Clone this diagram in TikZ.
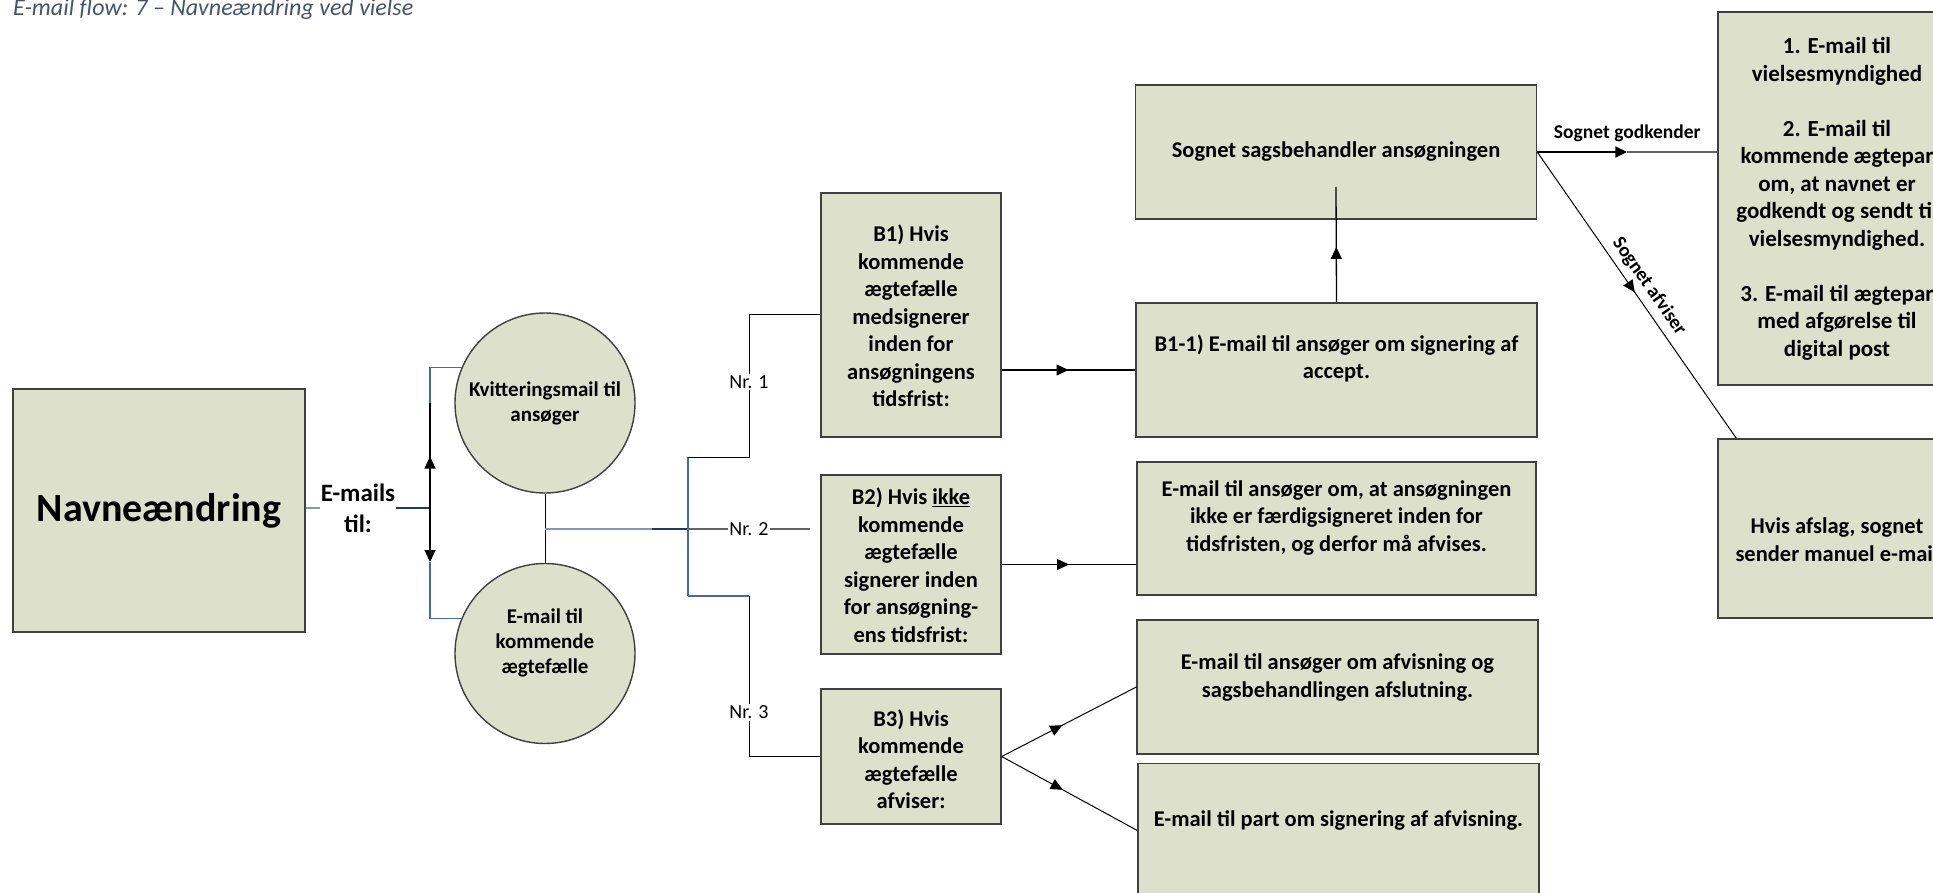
\documentclass[tikz,border=0pt]{standalone}
\usepackage{fontspec}
\setmainfont{Carlito}
\usetikzlibrary{arrows.meta,decorations.markings,calc}
\definecolor{boxfill}{RGB}{221,224,203}
\definecolor{boxline}{RGB}{64,64,64}
\definecolor{titlecol}{RGB}{68,84,106}
\definecolor{lblue}{RGB}{132,151,185}
\definecolor{mblue}{RGB}{68,105,170}
\definecolor{dblue}{RGB}{31,56,100}
\definecolor{lgray}{RGB}{100,100,100}
\tikzset{
  box/.style={draw=boxline, fill=boxfill, line width=1.4pt, inner sep=0pt},
  circ/.style={circle, draw=boxline, fill=boxfill, line width=1.4pt, inner sep=0pt, minimum size=180pt,
    align=center, font=\fontsize{21}{25}\selectfont\bfseries},
  btxt/.style={align=center, inner sep=0pt, font=\fontsize{22.5}{27.5}\selectfont\bfseries},
  nrlbl/.style={fill=white, text=black, inner sep=1.5pt, font=\fontsize{20}{24}\selectfont},
  lbl/.style={inner sep=1pt, font=\fontsize{19.5}{23}\selectfont\bfseries},
  conn/.style={black, line width=1.3pt},
  thinconn/.style={black, line width=1pt},
  bline/.style={line width=1.1pt},
  tip/.style={-{Triangle[length=12pt,width=11pt]}},
  midarrow/.style={postaction={decorate},decoration={markings,mark=at position #1 with {\arrow{Triangle[length=12pt,width=11pt]}}}},
}
\begin{document}
\begin{tikzpicture}[x=1pt,y=-1pt]
\useasboundingbox (0,0) rectangle (1933,893);

% title
\node[anchor=base west, inner sep=0pt, text=titlecol, font=\fontsize{24}{28}\selectfont\itshape] (title) at (13,16) {E-mail flow: 7 – Navneændring ved vielse};

% main box
\node[box, minimum width=292pt, minimum height=243pt, font=\fontsize{40}{48}\selectfont\bfseries] (navn) at (159,510.5) {Navneændring};
\node[align=center, inner sep=1pt, font=\fontsize{25}{31}\selectfont\bfseries] (emails) at (358,508) {E-mails\\til:};

% circles
\node[circ] (k1) at (545,403) {Kvitteringsmail til\\ansøger};
\node[circ] (k2) at (545,653.5) {};
\node[align=center, inner sep=0pt, font=\fontsize{21}{25}\selectfont\bfseries] (k2t) at (545,642.5) {E-mail til\\kommende\\ægtefælle};

% B boxes
\node[box, minimum width=180pt, minimum height=244pt] (b1) at (911,315) {};
\node[btxt] (b1t) at (911,316) {B1) Hvis\\kommende\\ægtefælle\\medsignerer\\inden for\\ansøgningens\\tidsfrist:};
\node[box, minimum width=180pt, minimum height=179pt] (b2) at (911,564.5) {};
\node[btxt] (b2t) at (911,565) {B2) Hvis \underline{ikke}\\kommende\\ægtefælle\\signerer inden\\for ansøgning-\\ens tidsfrist:};
\node[box, minimum width=180pt, minimum height=135pt] (b3) at (911,756.5) {};
\node[btxt] (b3t) at (911,759) {B3) Hvis\\kommende\\ægtefælle\\afviser:};

% result boxes
\node[box, minimum width=401pt, minimum height=134pt] (sag) at (1336,152) {};
\node[btxt] (sagt) at (1336,152) {Sognet sagsbehandler ansøgningen};
\node[box, minimum width=401pt, minimum height=134pt] (b11) at (1336.5,370) {};
\node[btxt] (b11t) at (1336.5,358.5) {B1-1) E-mail til ansøger om signering af\\accept.};
\node[box, minimum width=399pt, minimum height=133pt] (e2) at (1336.5,528.5) {};
\node[btxt] (e2t) at (1336.5,517.5) {E-mail til ansøger om, at ansøgningen\\ikke er færdigsigneret inden for\\tidsfristen, og derfor må afvises.};
\node[box, minimum width=401pt, minimum height=134pt] (e3) at (1337.5,687) {};
\node[btxt] (e3t) at (1337.5,677.5) {E-mail til ansøger om afvisning og\\sagsbehandlingen afslutning.};
\node[box, minimum width=401pt, minimum height=134pt] (e4) at (1338.5,830.5) {};
\node[btxt] (e4t) at (1338.5,820) {E-mail til part om signering af afvisning.};

% right boxes
\node[box, minimum width=238pt, minimum height=373pt] (topr) at (1837,198.5) {};
\node[btxt, font=\fontsize{23}{27.5}\selectfont\bfseries] (toprt) at (1837,199) {1. E-mail til\\vielsesmyndighed\\[27.5pt]2. E-mail til\\kommende ægtepar\\om, at navnet er\\godkendt og sendt til\\vielsesmyndighed.\\[27.5pt]3. E-mail til ægtepar\\med afgørelse til\\digital post};
\node[box, minimum width=238pt, minimum height=179pt] (afslag) at (1837,528.5) {};
\node[btxt] (afslagt) at (1837,539.5) {Hvis afslag, sognet\\sender manuel e-mail};

% left connectors
\draw[lblue, bline] (emails.west -| navn.east) -- (emails.west);
\coordinate (j1) at (430,508);
\draw[dblue, line width=1.6pt] (emails.east) -- (j1);
\coordinate (ju) at (430,403);
\coordinate (jd) at (430,562);
\draw[conn, midarrow=0.49] (j1) -- (ju);
\draw[mblue, bline] (ju) |- (k1.157);
\draw[conn, tip] (j1) -- (jd);
\draw[mblue, bline] (jd) |- (k2.157);

% circles to branches
\draw[thinconn] (k1.south) -- (k2.north);
\coordinate (cj) at (545,529);
\coordinate (c2) at (652,529);
\coordinate (c3) at (688,529);
\coordinate (n2end) at (810,529);
\draw[lblue, line width=1.3pt] (cj) -- (c2);
\draw[dblue, line width=1.8pt] (c2) -- (c3);
\draw[lgray, bline] (c3) -- node[nrlbl] (nr2) {Nr. 2} (n2end);
\coordinate (bt) at (688,457);
\coordinate (bb) at (688,596);
\draw[mblue, bline] (bt) -- (bb);
\coordinate (v1) at (749,457);
\coordinate (v3) at (749,596);
\draw[thinconn] (bt) -- (v1) |- node[nrlbl, pos=0.265] (nr1) {Nr. 1} (b1.west);
\draw[mblue, bline] (bb) -- (v3);
\draw[thinconn] (v3) |- node[nrlbl, pos=0.363] (nr3) {Nr. 3} (b3.west);

% B to results
\draw[conn, midarrow=0.5] (b1.east |- b11.west) -- (b11.west);
\draw[conn, midarrow=0.5] (b2.east) -- (b2.east -| e2.west);
\draw[thinconn, midarrow=0.45] (b3.east) -- (e3.west);
\draw[thinconn, midarrow=0.45] (b3.east) -- (e4.west);
\coordinate (sagin) at (1336,187);
\draw[conn, midarrow=0.48] (b11.north) -- (sagin);

% sognet decisions
\coordinate (gmid) at ($(sag.east)!0.5!(sag.east -| topr.west)$);
\draw[lgray, bline] (gmid) -- (sag.east -| topr.west);
\draw[black, line width=1.7pt, tip] (sag.east) -- node[lbl, pos=1, anchor=south, yshift=8pt] (godk) {Sognet godkender} (gmid);
\coordinate (afn) at ($(afslag.north west)+(19,0)$);
\draw[thinconn, midarrow=0.49] (sag.east) -- node[lbl, pos=0.5, sloped, above=5pt] (afv) {Sognet afviser} (afn);
\end{tikzpicture}
\end{document}
